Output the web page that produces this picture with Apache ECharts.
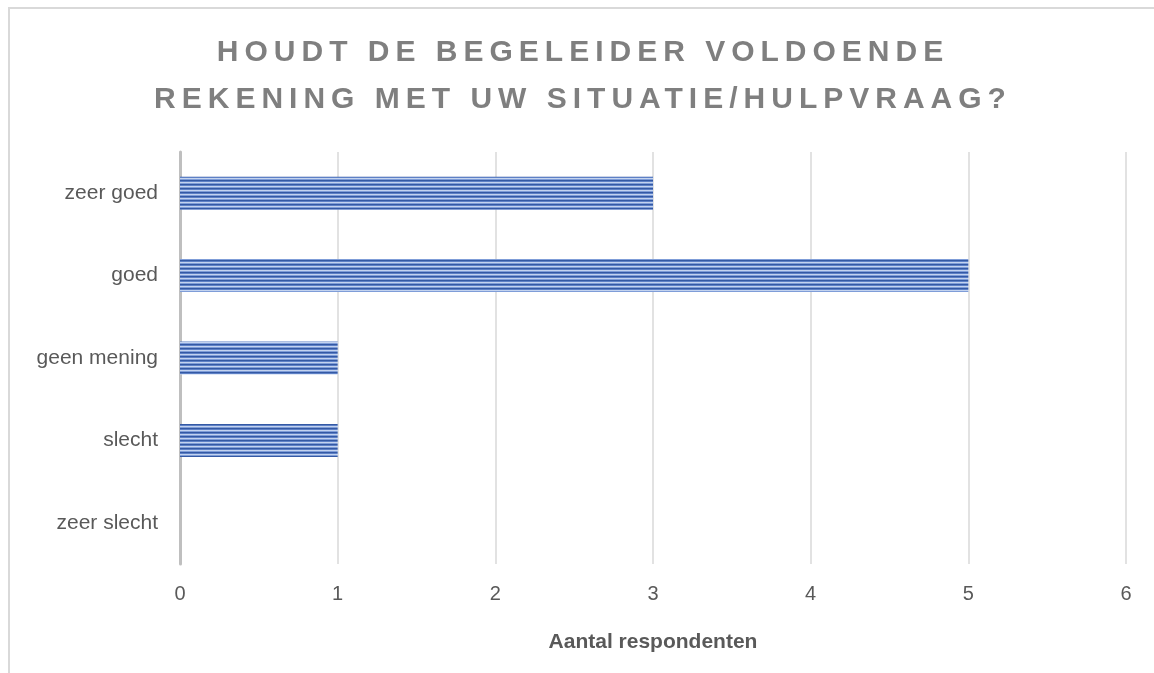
<!DOCTYPE html>
<html>
<head>
<meta charset="utf-8">
<script src="https://cdn.jsdelivr.net/npm/echarts@6/dist/echarts.min.js"></script>
<style>
html,body{margin:0;padding:0;background:#fff;}
#wrap{position:relative;width:1154px;height:673px;overflow:hidden;}
#chart{position:absolute;left:0;top:0;width:1154px;height:673px;}
#title{position:absolute;left:6px;top:27px;width:1154px;text-align:center;font-family:"Liberation Sans",Arial,sans-serif;font-weight:bold;font-size:30px;line-height:47px;letter-spacing:6px;color:#7f7f7f;}
</style>
</head>
<body>
<div id="wrap">
<div id="chart"></div>
<div id="title">HOUDT DE BEGELEIDER VOLDOENDE<br>REKENING MET UW SITUATIE/HULPVRAAG?</div>
</div>
<script>
var categories = ['zeer goed', 'goed', 'geen mening', 'slecht', 'zeer slecht'];
var values = [3, 5, 1, 1, 0];
var xTicks = [0, 1, 2, 3, 4, 5, 6];
var axisName = 'Aantal respondenten';

var pc = document.createElement('canvas');
pc.width = 4; pc.height = 4;
var ctx = pc.getContext('2d');
var rows = ['#3459a4', '#5d80c6', '#c3d3ef', '#7f9dd8'];
for (var i = 0; i < 4; i++) { ctx.fillStyle = rows[i]; ctx.fillRect(0, i, 4, 1); }

var chart = echarts.init(document.getElementById('chart'), null, {renderer: 'canvas'});
chart.setOption({
  animation: false,
  backgroundColor: '#ffffff',
  graphic: [{
    type: 'rect', silent: true, z: -1,
    shape: {x: 9, y: 8, width: 1300, height: 800},
    style: {fill: 'none', stroke: '#d9d9d9', lineWidth: 2}
  }],
  grid: {left: 180, right: 28, top: 152, bottom: 109, containLabel: false},
  xAxis: {
    type: 'value', min: xTicks[0], max: xTicks[xTicks.length - 1], interval: 1,
    name: axisName, nameLocation: 'middle', nameGap: 68,
    nameTextStyle: {fontFamily: 'Liberation Sans', fontWeight: 'bold', fontSize: 21, color: '#595959'},
    axisLine: {show: false}, axisTick: {show: false},
    axisLabel: {fontFamily: 'Liberation Sans', fontSize: 20, color: '#595959', margin: 20},
    splitLine: {show: true, lineStyle: {color: '#d9d9d9', width: 1.5}}
  },
  yAxis: {
    type: 'category', data: categories, inverse: true,
    axisLine: {show: true, lineStyle: {color: '#bfbfbf', width: 3}},
    axisTick: {show: false},
    axisLabel: {fontFamily: 'Liberation Sans', fontSize: 21, color: '#595959', margin: 22},
    splitLine: {show: false}
  },
  series: [{
    type: 'bar', data: values, barCategoryGap: '60%',
    itemStyle: {color: {image: pc, repeat: 'repeat'}, borderWidth: 0}
  }]
});
</script>
</body>
</html>
